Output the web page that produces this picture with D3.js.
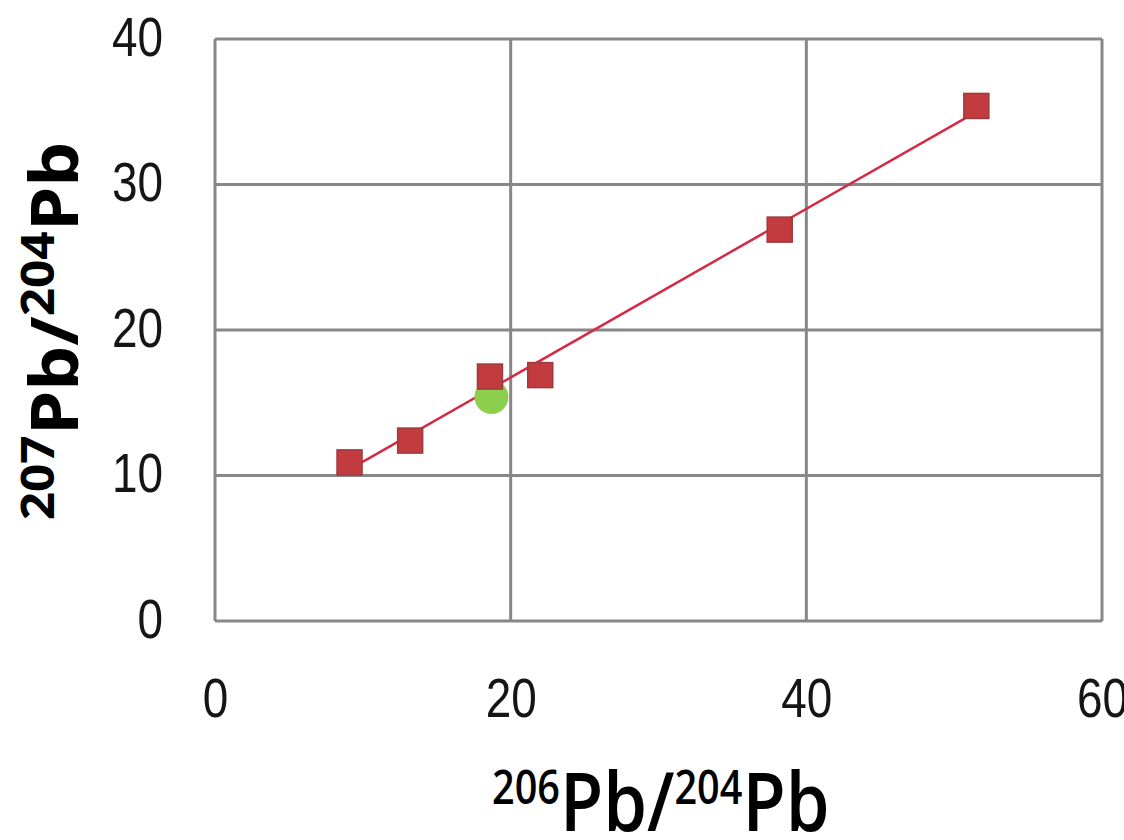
<!DOCTYPE html>
<html>
<head>
<meta charset="utf-8">
<script src="https://cdn.jsdelivr.net/npm/d3@7"></script>
<style>
  html, body { margin: 0; padding: 0; background: #fff; }
</style>
</head>
<body>
<div id="chart"></div>
<script>
// samples (206Pb/204Pb, 207Pb/204Pb)
const xValues = [9.1, 13.2, 18.6, 22.0, 38.2, 51.5];
const yValues = [10.9, 12.4, 16.8, 16.9, 26.9, 35.4];
// reference point (green)
const refX = [18.7];
const refY = [15.4];
const xTicks = [0, 20, 40, 60];
const yTicks = [0, 10, 20, 30, 40];

const width = 1124, height = 840;
const margin = { top: 39, right: 22, bottom: 219, left: 215 };

const svg = d3.select('#chart')
  .append('svg')
  .attr('width', width)
  .attr('height', height);

const x = d3.scaleLinear().domain([0, 60]).range([margin.left, width - margin.right]);
const y = d3.scaleLinear().domain([0, 40]).range([height - margin.bottom, margin.top]);

const gridColor = '#878787';

// grid
svg.append('g')
  .selectAll('line')
  .data(yTicks)
  .enter()
  .append('line')
  .attr('x1', x(0)).attr('x2', x(60))
  .attr('y1', d => y(d)).attr('y2', d => y(d))
  .attr('stroke', gridColor).attr('stroke-width', 3);

svg.append('g')
  .selectAll('line')
  .data(xTicks)
  .enter()
  .append('line')
  .attr('y1', y(0)).attr('y2', y(40))
  .attr('x1', d => x(d)).attr('x2', d => x(d))
  .attr('stroke', gridColor).attr('stroke-width', 3);

// axes (labels only, condensed digits)
const xAxis = d3.axisBottom(x).tickValues(xTicks).tickSize(0);
const yAxis = d3.axisLeft(y).tickValues(yTicks).tickSize(0);

const gx = svg.append('g')
  .attr('transform', 'translate(0,' + y(0) + ')')
  .call(xAxis);
const gy = svg.append('g')
  .attr('transform', 'translate(' + x(0) + ',0)')
  .call(yAxis);

[gx, gy].forEach(g => {
  g.select('.domain').remove();
  g.selectAll('text')
    .attr('fill', '#151515')
    .attr('x', 0)
    .attr('y', 0)
    .attr('dy', null)
    .style('font-family', '"Liberation Sans", Arial, sans-serif')
    .style('font-size', '56px');
});
gx.selectAll('text').attr('transform', 'translate(0,96) scale(0.82,1)');
gy.selectAll('text').attr('transform', 'translate(-52,16) scale(0.82,1)');

// trend line (least squares through the samples)
const pts = xValues.map((v, i) => [v, yValues[i]]);
const mx = d3.mean(xValues), my = d3.mean(yValues);
const slope = d3.sum(pts, p => (p[0] - mx) * (p[1] - my)) / d3.sum(pts, p => (p[0] - mx) ** 2);
const icpt = my - slope * mx;
const xr = d3.extent(xValues);

svg.append('line')
  .attr('x1', x(xr[0])).attr('y1', y(slope * xr[0] + icpt))
  .attr('x2', x(xr[1])).attr('y2', y(slope * xr[1] + icpt))
  .attr('stroke', '#d42a45')
  .attr('stroke-width', 2.5);

// reference point
svg.append('g')
  .selectAll('circle')
  .data(refX)
  .enter()
  .append('circle')
  .attr('cx', d => x(d))
  .attr('cy', (d, i) => y(refY[i]))
  .attr('r', 17)
  .attr('fill', '#8ccf4d');

// samples
const s = 25;
svg.append('g')
  .selectAll('rect')
  .data(pts)
  .enter()
  .append('rect')
  .attr('x', d => x(d[0]) - s / 2)
  .attr('y', d => y(d[1]) - s / 2)
  .attr('width', s)
  .attr('height', s)
  .attr('fill', '#c23b3e')
  .attr('stroke', '#9c3a3d')
  .attr('stroke-width', 1.5);

// axis titles (stretched like the source image)
const titleFont = '"Open Sans", "DejaVu Sans", sans-serif';

const xt = svg.append('text')
  .attr('transform', 'translate(492,831) scale(1.1,1.28)')
  .attr('text-anchor', 'start')
  .attr('font-family', titleFont)
  .attr('font-weight', 600)
  .attr('fill', '#000');
xt.append('tspan').attr('font-size', 36).attr('dy', -21).text('206');
xt.append('tspan').attr('font-size', 64).attr('dy', 21).text('Pb/');
xt.append('tspan').attr('font-size', 36).attr('dy', -21).text('204');
xt.append('tspan').attr('font-size', 64).attr('dy', 21).text('Pb');

const yt = svg.append('text')
  .attr('transform', 'translate(78,331) rotate(-90) scale(1.27,1.18)')
  .attr('text-anchor', 'middle')
  .attr('font-family', titleFont)
  .attr('font-weight', 700)
  .attr('fill', '#000');
yt.append('tspan').attr('font-size', 39).attr('dy', -20).text('207');
yt.append('tspan').attr('font-size', 56).attr('dy', 20).text('Pb/');
yt.append('tspan').attr('font-size', 39).attr('dy', -20).text('204');
yt.append('tspan').attr('font-size', 56).attr('dy', 20).text('Pb');
</script>
</body>
</html>
